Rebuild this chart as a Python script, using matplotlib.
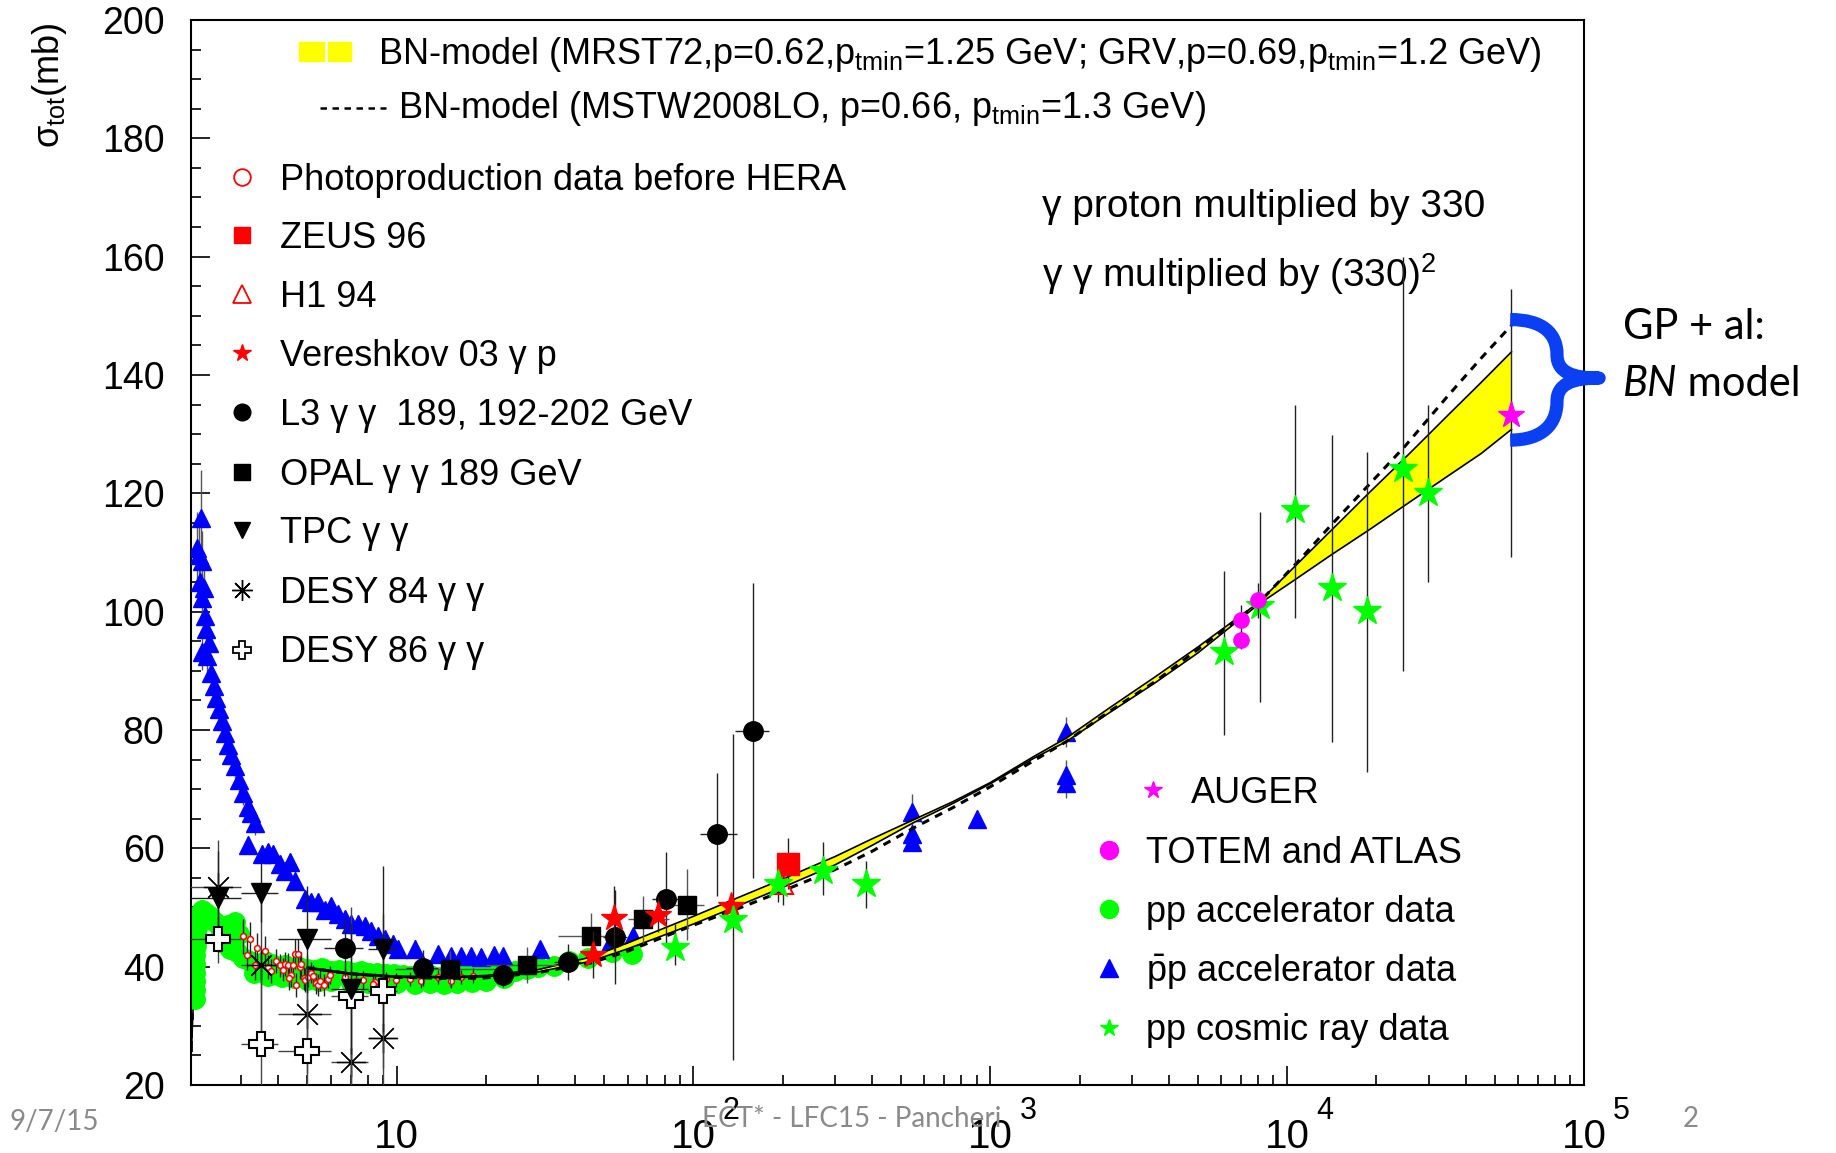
import numpy as np
import matplotlib
matplotlib.use("Agg")
import matplotlib.pyplot as plt
from matplotlib.path import Path
from matplotlib.patches import PathPatch, Rectangle
import matplotlib.transforms as mtransforms
from matplotlib.ticker import FixedLocator, NullFormatter, MultipleLocator

plt.rcParams['font.family'] = ['Liberation Sans', 'DejaVu Sans']
plt.rcParams['mathtext.fontset'] = 'custom'
plt.rcParams['mathtext.rm'] = 'Liberation Sans'
plt.rcParams['mathtext.it'] = 'Liberation Sans:italic'
plt.rcParams['mathtext.bf'] = 'Liberation Sans:bold'
plt.rcParams['mathtext.default'] = 'regular'

# ---------------- data (sqrt(s) in GeV, sigma_tot in mb) ----------------
# pbar-p accelerator data
pbp_x = [2.20, 2.12, 2.16, 2.21, 2.18, 2.24, 2.21, 2.26, 2.28, 2.34, 2.21, 2.30, 2.38, 2.42, 2.47, 2.52,
         2.58, 2.64, 2.71, 2.78, 2.86, 2.95, 3.04, 3.15, 3.24, 3.34,
         3.16, 3.51, 3.70, 3.84, 4.04, 4.21, 4.37, 4.54, 4.91, 5.17, 5.44, 5.73, 6.03, 6.35, 6.69, 7.04,
         7.42, 7.81, 8.22, 8.66, 9.12, 9.72, 10.1, 11.5, 13.8, 15.3, 16.5, 17.8, 19.3, 21.3, 22.9, 30.4,
         51.8, 62.8,
         546, 546, 546, 900, 1800, 1800, 1800]
pbp_y = [115.9, 110.8, 109.5, 108.6, 105.0, 104.0, 102.3, 99.3, 97.0, 94.7, 93.1, 92.5, 89.6, 87.5, 85.4, 83.5,
         81.5, 79.5, 77.5, 75.7, 73.9, 71.5, 69.3, 67.0, 66.0, 64.2,
         60.5, 59.1, 59.3, 59.1, 57.4, 56.2, 57.7, 54.5, 51.4, 50.9, 50.9, 49.5, 50.3, 48.9, 48.1, 47.2,
         47.2, 46.9, 46.1, 45.2, 44.7, 43.8, 43.0, 43.0, 42.1, 41.8, 41.8, 41.8, 41.6, 42.0, 41.8, 42.9,
         43.7, 45.1,
         66.2, 62.5, 61.1, 65.0, 79.7, 72.4, 71.0]
pbp_err = [8, 6, 5, 5, 4, 4, 4, 3, 3, 3, 3, 3, 3, 2, 2, 2,
           2, 2, 2, 2, 2, 2, 2, 2, 2, 2,
           1.5, 1.5, 1.5, 1.5, 1.5, 1.5, 1.5, 1.5, 1.5, 1.5, 1.5, 1.5, 1.5, 1.5, 1.5, 1.5,
           1.5, 1.5, 1.5, 1.5, 1.5, 1.5, 1.5, 1.5, 1.0, 1.0, 1.0, 1.0, 1.0, 1.0, 1.0, 1.0,
           1.0, 1.0,
           3.0, 1.5, 1.5, 1.5, 2.5, 2.5, 2.5]

# pp accelerator data
pp_x = [2.09, 2.09, 2.09, 2.09, 2.10, 2.10, 2.11, 2.12, 2.13, 2.15, 2.18, 2.22, 2.28, 2.35, 2.45, 2.55,
        2.62, 2.70, 2.85, 2.95, 2.60, 2.75, 2.90, 3.05, 3.2, 3.4, 3.6, 3.8, 4.0, 4.2, 4.4, 4.7, 5.0,
        5.3, 5.6, 6.0, 6.4, 6.8, 7.2, 7.6, 8.1, 8.6, 9.2, 9.8, 10.5, 11.2, 12, 13, 14, 15, 16, 17,
        18, 19.5, 21, 23, 25, 27.5, 30, 34, 38, 44, 53, 62,
        3.3, 3.7, 4.1, 4.5, 5.0, 5.5, 6.0, 7.0, 8.0, 9.0, 10.0, 11.5, 13.0, 14.5, 16.0, 18.0, 20.0, 23.0]
pp_y = [34.5, 36.0, 37.5, 39.0, 40.5, 42.0, 43.5, 45.0, 46.5, 48.0, 49.0, 49.5, 49.0, 48.5, 47.5, 46.5,
        46.0, 47.0, 47.5, 45.5, 44.0, 43.0, 42.5, 41.5, 41.0, 40.5, 41.0, 40.5, 40.0, 40.3, 39.8, 40.0, 39.6,
        39.4, 39.8, 39.3, 39.5, 39.2, 39.0, 39.3, 38.9, 39.0, 38.7, 38.8, 38.6, 38.5, 38.4, 38.6, 38.3, 38.5, 38.6, 38.4,
        38.6, 38.7, 39.0, 38.9, 39.3, 39.6, 40.0, 40.1, 41.0, 41.5, 42.5, 42.2,
        39.0, 38.5, 38.2, 38.0, 37.8, 37.5, 37.6, 37.3, 37.2, 37.0, 37.2, 37.0, 37.3, 37.0, 37.2, 37.4, 37.6, 38.0]

# pp near threshold (thin black points)
ppth_x = [2.02, 2.03, 2.04, 2.05, 2.06]
ppth_y = [23.0, 24.5, 26.5, 29.0, 32.0]

# photoproduction data before HERA (x330)
php_x = [3.04, 3.22, 3.13, 3.40, 3.60, 3.33, 3.70, 3.79, 3.94, 4.04, 4.15, 4.20, 4.31, 4.40, 4.34, 4.49,
         4.54, 4.66, 4.72, 4.78, 4.60, 4.88, 4.93, 5.04, 5.17, 5.24, 5.37, 5.44, 5.51, 5.70, 5.88, 5.96,
         6.69, 7.32, 7.71, 8.44, 8.33, 9.23, 9.98, 11.1, 12.1, 13.8, 15.3, 16.5, 18.1]
php_y = [45.1, 44.6, 42.0, 43.2, 42.7, 40.3, 39.9, 39.3, 40.9, 40.2, 39.5, 40.4, 40.3, 38.6, 38.1, 40.3,
         42.1, 42.1, 39.9, 40.4, 36.9, 38.0, 37.7, 38.3, 39.0, 38.5, 37.2, 36.9, 37.6, 36.9, 37.9, 38.6,
         38.2, 37.6, 37.7, 37.4, 37.1, 37.9, 37.8, 37.9, 37.6, 38.3, 37.6, 38.3, 38.5]
php_err = [3.0, 3.0, 2.5, 2.5, 2.5, 2.5, 2.0, 2.0, 2.0, 2.0, 2.0, 2.0, 2.0, 2.0, 2.0, 2.0,
           2.5, 2.5, 2.0, 2.0, 2.0, 2.0, 2.0, 1.8, 1.8, 1.8, 1.8, 1.8, 1.8, 1.8, 1.5, 1.5,
           1.5, 1.5, 1.5, 1.5, 1.5, 1.2, 1.2, 1.2, 1.2, 1.2, 1.2, 1.2, 1.2]

# ZEUS 96, H1 94 (x330)
zeus_x, zeus_y, zeus_err = [209], [57.4], [4.3]
h1_x, h1_y, h1_err = [200], [54.0], [3.6]

# Vereshkov 03 gamma p
ver_x = [46.0, 54.2, 76.2, 133.6]
ver_y = [42.0, 48.2, 48.8, 50.2]
ver_err = [4.0, 5.5, 3.0, 2.0]

# L3 gamma gamma
l3_x = [6.7, 12.3, 22.8, 37.9, 54.6, 80.7, 120.5, 158.5]
l3_y = [43.2, 39.8, 38.6, 40.8, 45.0, 51.4, 62.4, 79.9]
l3_err = [5.0, 3.0, 2.0, 3.0, 8.0, 8.0, 10.4, 25.0]
l3_xlo = [1.0, 1.5, 2.5, 4.0, 5.0, 8.0, 15.0, 20.0]
l3_xhi = [1.0, 1.5, 2.5, 4.0, 5.0, 8.0, 20.0, 21.0]

# OPAL gamma gamma
opal_x = [15.1, 27.6, 45.3, 67.6, 95.1]
opal_y = [39.6, 40.3, 45.1, 48.0, 50.5]
opal_err = [3.0, 3.0, 4.0, 4.0, 6.0]
opal_xlo = [5.2, 7.6, 10.3, 7.6, 12.0]
opal_xhi = [7.9, 10.4, 12.7, 15.4, 13.9]

# TPC, DESY 84, DESY 86 gamma gamma
lowgg_x = [2.5, 3.5, 5.0, 7.0, 9.0]
lowgg_xerr = [0.5, 0.5, 1.0, 1.0, 1.0]
tpc_y = [51.6, 52.5, 44.6, 36.3, 43.0]
tpc_err = [8, 5, 9, 11, 14]
desy84_y = [53.4, 40.2, 32.0, 23.9, 27.9]
desy84_err = [8, 12, 10, 12, 15]
desy86_y = [44.6, 26.9, 25.7, 35.1, 35.9]
desy86_err = [4, 13, 14, 15, 13]

# pp cosmic ray data
cr_x = [86.5, 136, 193, 273, 383, 6120, 8110, 10670, 14120, 18540, 24550, 29950]
cr_y = [43.2, 47.9, 53.9, 56.1, 53.9, 93.1, 100.9, 117.1, 104.0, 100.1, 124.1, 120.1]
cr_elo = [3.0, 23.6, 3.0, 4.0, 4.0, 14.0, 16.1, 18.1, 26.1, 27.2, 34.1, 15.1]
cr_ehi = [4.0, 31.4, 3.0, 5.0, 4.0, 13.8, 16.0, 17.8, 25.8, 26.9, 35.9, 14.8]

# TOTEM and ATLAS
tot_x = [7000, 7000, 8000]
tot_y = [98.6, 95.2, 101.9]
tot_err = [2.5, 1.5, 2.9]

# AUGER
aug_x, aug_y = [57000], [133.2]
aug_elo, aug_ehi = [24.0], [21.4]

# BN model curves
bn_x = [5, 7, 10, 15, 20, 30, 45, 60, 100, 150, 200, 300, 400, 550, 750, 1000, 1400, 1800, 2500, 3600,
        5000, 8000, 11000, 14000, 19000, 25000, 35000, 45000, 57000]
bn_hi = [39.9, 38.9, 38.4, 38.3, 38.5, 39.5, 41.6, 44.0, 48.5, 52.2, 54.8, 58.6, 61.6, 64.8, 67.9, 71.1,
         75.5, 78.6, 83.6, 89.0, 94.0, 101.5, 108.4, 113.6, 120.2, 126.0, 133.3, 138.7, 143.9]
bn_lo = [39.7, 38.7, 38.2, 38.1, 38.3, 39.1, 40.9, 43.0, 47.2, 50.8, 53.4, 57.2, 60.5, 64.3, 67.6, 70.9,
         75.2, 78.0, 82.8, 88.0, 93.0, 101.2, 105.9, 109.5, 113.9, 118.0, 123.0, 126.7, 130.8]
mstw = [39.8, 38.8, 38.2, 38.0, 38.1, 39.0, 40.6, 42.6, 47.0, 50.3, 52.8, 56.4, 59.5, 63.4, 66.9, 70.4,
        74.8, 78.0, 83.0, 88.2, 93.6, 101.4, 108.7, 114.5, 121.6, 128.0, 136.6, 142.8, 148.4]

x_ticks = [10, 100, 1000, 10000, 100000]
x_tick_exp = ["", "2", "3", "4", "5"]
y_ticks = [20, 40, 60, 80, 100, 120, 140, 160, 180, 200]

# ---------------- colours ----------------
GREEN = '#00ff00'
RED = '#ff0000'
BLUE = '#0000ff'
MAG = '#ff00ff'
YEL = '#ffff00'
ECOL = '#222222'

fig = plt.figure(figsize=(18.36, 11.53), dpi=100)
ax = fig.add_axes([0.1040, 0.0590, 0.7587, 0.9237])
ax.set_xscale('log')
ax.set_xlim(2.03, 1e5)
ax.set_ylim(20, 200)

eb = dict(capsize=0, elinewidth=1.0, ecolor=ECOL, linestyle='none')

ax.errorbar(pp_x, pp_y, fmt='o', color=GREEN, ms=14, mec=GREEN, zorder=2, linestyle='none')
ax.errorbar(ppth_x, ppth_y, yerr=1.0, xerr=0.004, fmt='none', ecolor='black', elinewidth=1.2, capsize=0, zorder=2)
ax.plot(ppth_x, ppth_y, color='black', lw=1.2, zorder=2)
ax.errorbar(pbp_x, pbp_y, yerr=pbp_err, fmt='^', color=BLUE, ms=13, mec=BLUE, zorder=3,
            capsize=0, elinewidth=1.0, linestyle='none', ecolor='#555555')
ax.errorbar(php_x, php_y, yerr=php_err, fmt='o', mfc='white', mec=RED, mew=1.1, ms=4.2, zorder=4, **eb)

# BN model band and curves
ax.fill_between(bn_x, bn_lo, bn_hi, color=YEL, lw=0, zorder=5)
ax.plot(bn_x, bn_hi, color='black', lw=1.2, zorder=6)
ax.plot(bn_x, bn_lo, color='black', lw=1.2, zorder=6)
ax.plot(bn_x, mstw, color='black', lw=2.2, dashes=(2.6, 2.2), zorder=6)

# gamma gamma low energy
ax.errorbar(lowgg_x, desy84_y, yerr=desy84_err, xerr=lowgg_xerr, fmt='none', zorder=7,
            capsize=0, elinewidth=1.0, ecolor='#444444')
ax.plot(lowgg_x, desy84_y, linestyle='none', marker=(8, 2, 0), ms=21, color='black', mew=0.9, zorder=8)
ax.errorbar(lowgg_x, desy86_y, yerr=desy86_err, xerr=lowgg_xerr, fmt='P', mfc='white', mec='black',
            mew=1.5, ms=17, zorder=8, capsize=0, elinewidth=1.0, ecolor='#444444')
ax.errorbar(lowgg_x, tpc_y, yerr=tpc_err, xerr=lowgg_xerr, fmt='v', color='black', ms=15, zorder=8,
            capsize=0, elinewidth=1.0, ecolor='#222222')

ax.errorbar(l3_x, l3_y, yerr=l3_err, xerr=[l3_xlo, l3_xhi], fmt='o', color='black', ms=14, zorder=8, **eb)
ax.errorbar(opal_x, opal_y, yerr=opal_err, xerr=[opal_xlo, opal_xhi], fmt='s', color='black', ms=13,
            zorder=8, capsize=0, elinewidth=1.0, ecolor='#555555')
ax.errorbar(ver_x, ver_y, yerr=ver_err, fmt='*', color=RED, ms=20, zorder=9, **eb)
ax.errorbar(h1_x, h1_y, yerr=h1_err, fmt='^', mfc='none', mec=RED, mew=1.5, ms=15, zorder=9, **eb)
ax.errorbar(zeus_x, zeus_y, yerr=zeus_err, fmt='s', color=RED, ms=16, zorder=9, **eb)
ax.errorbar(cr_x, cr_y, yerr=[cr_elo, cr_ehi], fmt='*', color=GREEN, ms=21, zorder=9, **eb)
ax.errorbar(tot_x, tot_y, yerr=tot_err, fmt='o', color=MAG, ms=11, zorder=10, **eb)
ax.errorbar(aug_x, aug_y, yerr=[aug_elo, aug_ehi], fmt='*', color=MAG, ms=20, zorder=10, **eb)

# ---------------- axes styling ----------------
for s in ax.spines.values():
    s.set_linewidth(1.5)
ax.xaxis.set_major_locator(FixedLocator(x_ticks))
ax.xaxis.set_minor_locator(FixedLocator([m * 10 ** d for d in range(0, 5) for m in range(2, 10)]))
ax.xaxis.set_major_formatter(NullFormatter())
ax.xaxis.set_minor_formatter(NullFormatter())
ax.yaxis.set_major_locator(FixedLocator(y_ticks))
ax.yaxis.set_minor_locator(MultipleLocator(5))
ax.tick_params(which='both', direction='in', top=False, right=False, width=1.2)
ax.tick_params(which='major', length=14)
ax.tick_params(which='minor', length=7)
ax.tick_params(axis='y', which='major', labelsize=27, pad=19)

# x tick labels (ROOT style 10, 10^2, ...)
tr_lbl = mtransforms.blended_transform_factory(ax.transData, ax.transAxes)
for v, e in zip(x_ticks, x_tick_exp):
    ax.text(v, -0.0595, "10", transform=tr_lbl, ha='center', va='baseline', fontsize=29, clip_on=False)
    if e:
        off = mtransforms.ScaledTranslation(21 / 72, 0, fig.dpi_scale_trans)
        ax.text(v, -0.032, e, transform=tr_lbl + off, ha='left', va='baseline', fontsize=22, clip_on=False)

fig.text(0.0268, 0.981, "σ$_{tot}$(mb)", rotation=90, ha='center', va='top', fontsize=26)

# ---------------- legends (layout helper from reference pixel layout) ----------------
def A(dx, dy):
    return ((dx - 163) / 1190.0, (927 - dy) / 910.0)

T = ax.transAxes
FS = 26

# top legend
for x0, w in [(255, 22), (280, 20)]:
    p = A(x0, 52)
    ax.add_patch(Rectangle(p, w / 1190.0, 16 / 910.0, transform=T, color=YEL, clip_on=False, zorder=11))
p = A(323, 55)
ax.text(p[0], p[1], "BN-model (MRST72,p=0.62,p$_{tmin}$=1.25 GeV; GRV,p=0.69,p$_{tmin}$=1.2 GeV)",
        transform=T, fontsize=26, va='baseline', ha='left')
a, b = A(273, 92), A(330, 92)
ax.plot([a[0], b[0]], [a[1], b[1]], transform=T, color='black', lw=1.8, dashes=(2.6, 2.2), clip_on=False)
p = A(340, 101)
ax.text(p[0], p[1], "BN-model (MSTW2008LO, p=0.66, p$_{tmin}$=1.3 GeV)",
        transform=T, fontsize=26, va='baseline', ha='left')

left_entries = [
    (151, "Photoproduction data before HERA", dict(marker='o', mfc='none', mec=RED, mew=1.3, ms=12)),
    (201, "ZEUS 96", dict(marker='s', color=RED, ms=11)),
    (251, "H1 94", dict(marker='^', mfc='none', mec=RED, mew=1.3, ms=13)),
    (302, "Vereshkov 03 γ p", dict(marker='*', color=RED, ms=13)),
    (352, "L3 γ γ  189, 192-202 GeV", dict(marker='o', color='black', ms=12)),
    (403, "OPAL γ γ 189 GeV", dict(marker='s', color='black', ms=11)),
    (453, "TPC γ γ", dict(marker='v', color='black', ms=12)),
    (504, "DESY 84 γ γ", dict(marker=(8, 2, 0), color='black', ms=15, mew=1.0)),
    (555, "DESY 86 γ γ", dict(marker='P', mfc='white', mec='black', mew=1.3, ms=13)),
]
for dy, label, mk in left_entries:
    m = A(207, dy)
    ax.plot([m[0]], [m[1]], transform=T, clip_on=False, linestyle='none', zorder=11, **mk)
    t = A(239, dy + 11)
    ax.text(t[0], t[1], label, transform=T, fontsize=FS, va='baseline', ha='left')

right_entries = [
    (985, 675, 1017, "AUGER", dict(marker='*', color=MAG, ms=13)),
    (947, 726, 979, "TOTEM and ATLAS", dict(marker='o', color=MAG, ms=13)),
    (947, 777, 979, "pp accelerator data", dict(marker='o', color=GREEN, ms=13)),
    (947, 827, 979, r"$\bar{\rm p}$p accelerator data", dict(marker='^', color=BLUE, ms=13)),
    (947, 878, 979, "pp cosmic ray data", dict(marker='*', color=GREEN, ms=13)),
]
for mx, dy, tx, label, mk in right_entries:
    m = A(mx, dy)
    ax.plot([m[0]], [m[1]], transform=T, clip_on=False, linestyle='none', zorder=11, **mk)
    t = A(tx, dy + 11)
    ax.text(t[0], t[1], label, transform=T, fontsize=FS, va='baseline', ha='left')

p = A(890, 185)
ax.text(p[0], p[1], "γ proton multiplied by 330", transform=T, fontsize=28, va='baseline')
p = A(890, 245)
ax.text(p[0], p[1], "γ γ multiplied by (330)$^{2}$", transform=T, fontsize=28, va='baseline')

# ---------------- blue brace + slide annotations ----------------
verts_d = [(1290, 273), (1318, 273), (1330, 285), (1330, 303),
           (1330, 318), (1343, 323), (1366, 323),
           (1343, 323), (1330, 328), (1330, 343),
           (1330, 362), (1318, 376), (1290, 376)]
codes = [Path.MOVETO] + [Path.CURVE4] * 12
brace = Path([A(*v) for v in verts_d], codes)
ax.add_patch(PathPatch(brace, transform=T, fill=False, edgecolor='#0b3ff2', lw=9.5,
                       capstyle='butt', joinstyle='round', clip_on=False, zorder=12))

FW = 1568.0
FH = 985.0
fig.text(1386 / FW, 1 - 290 / FH, "GP + al:", fontsize=30, family='Lato', va='baseline', ha='left')
t_bn = fig.text(1386 / FW, 1 - 338 / FH, "BN", fontsize=30, family='Lato', style='italic',
                va='baseline', ha='left')
fig.canvas.draw()
bb = t_bn.get_window_extent(renderer=fig.canvas.get_renderer())
fig.text(bb.x1 / fig.bbox.width, 1 - 338 / FH, " model", fontsize=30, family='Lato',
         va='baseline', ha='left')

GREY = '#8a8a8a'
fig.text(8 / FW, 1 - 965 / FH, "9/7/15", fontsize=20, family='Lato', color=GREY, va='baseline', ha='left')
fig.text(727 / FW, 1 - 963 / FH, "ECT* - LFC15 - Pancheri", fontsize=20, family='Lato', color=GREY,
         va='baseline', ha='center')
fig.text(1444 / FW, 1 - 963 / FH, "2", fontsize=20, family='Lato', color=GREY, va='baseline', ha='center')

fig.savefig("out.png", dpi=100)
